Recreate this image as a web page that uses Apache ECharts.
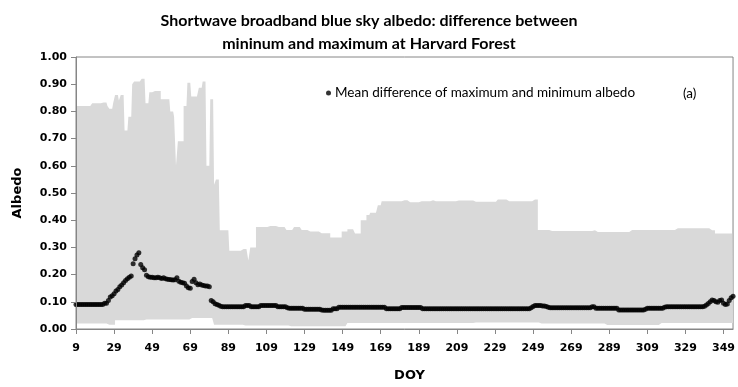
<!DOCTYPE html>
<html>
<head>
<meta charset="utf-8">
<title>Harvard Forest blue sky albedo range</title>
<script src="https://cdn.jsdelivr.net/npm/echarts@6/dist/echarts.min.js"></script>
<style>
  html, body { margin: 0; padding: 0; background: #fff; }
  #chart { width: 738px; height: 387px; }
</style>
</head>
<body>
<div id="chart"></div>
<script>
// Day-of-year range covered by the series
const FIRST_DOY = 9;
const LAST_DOY = 354;

// Daily maximum of shortwave broadband blue sky albedo (upper edge of the grey band)
const maxAlbedo = [
  // 9-18
  0.82,0.82,0.82,0.82,0.82,0.82,0.82,0.82,0.82,0.83,
  // 19-28
  0.83,0.83,0.83,0.83,0.833,0.833,0.833,0.82,0.81,0.81,
  // 29-38
  0.83,0.86,0.86,0.84,0.86,0.86,0.73,0.73,0.78,0.78,
  // 39-48
  0.90,0.91,0.91,0.91,0.91,0.92,0.92,0.83,0.83,0.87,
  // 49-58
  0.87,0.875,0.875,0.875,0.875,0.845,0.845,0.845,0.845,0.845,
  // 59-68
  0.80,0.80,0.78,0.60,0.69,0.69,0.69,0.82,0.82,0.905,
  // 69-78
  0.905,0.855,0.855,0.855,0.855,0.887,0.887,0.91,0.91,0.60,
  // 79-88
  0.60,0.845,0.845,0.53,0.55,0.55,0.363,0.363,0.363,0.363,
  // 89-98
  0.363,0.288,0.288,0.288,0.288,0.288,0.288,0.294,0.294,0.294,
  // 99-108
  0.294,0.252,0.30,0.30,0.30,0.375,0.375,0.375,0.375,0.375,
  // 109-118
  0.375,0.379,0.379,0.379,0.379,0.379,0.375,0.375,0.375,0.375,
  // 119-128
  0.375,0.364,0.364,0.364,0.368,0.375,0.375,0.375,0.375,0.364,
  // 129-138
  0.364,0.364,0.364,0.358,0.358,0.358,0.358,0.358,0.352,0.352,
  // 139-148
  0.352,0.352,0.352,0.352,0.336,0.336,0.336,0.336,0.336,0.336,
  // 149-158
  0.358,0.358,0.358,0.367,0.367,0.367,0.367,0.351,0.351,0.351,
  // 159-168
  0.40,0.40,0.40,0.419,0.419,0.427,0.427,0.427,0.427,0.455,
  // 169-178
  0.455,0.47,0.47,0.47,0.47,0.47,0.47,0.47,0.47,0.47,
  // 179-188
  0.47,0.47,0.473,0.473,0.473,0.466,0.466,0.466,0.466,0.466,
  // 189-198
  0.466,0.47,0.47,0.47,0.47,0.47,0.47,0.473,0.473,0.47,
  // 199-208
  0.47,0.47,0.47,0.47,0.47,0.47,0.47,0.47,0.47,0.47,
  // 209-218
  0.47,0.472,0.472,0.472,0.472,0.472,0.472,0.472,0.472,0.468,
  // 219-228
  0.468,0.468,0.468,0.468,0.468,0.468,0.468,0.468,0.468,0.468,
  // 229-238
  0.468,0.468,0.476,0.476,0.476,0.476,0.476,0.47,0.47,0.47,
  // 239-248
  0.47,0.47,0.47,0.47,0.47,0.47,0.47,0.47,0.47,0.47,
  // 249-258
  0.476,0.476,0.476,0.364,0.364,0.364,0.364,0.364,0.364,0.36,
  // 259-268
  0.36,0.36,0.36,0.36,0.36,0.36,0.36,0.36,0.36,0.36,
  // 269-278
  0.36,0.36,0.36,0.36,0.36,0.36,0.36,0.36,0.36,0.36,
  // 279-288
  0.36,0.36,0.363,0.357,0.357,0.357,0.357,0.357,0.357,0.357,
  // 289-298
  0.357,0.357,0.357,0.357,0.357,0.357,0.357,0.357,0.357,0.357,
  // 299-308
  0.357,0.357,0.364,0.364,0.364,0.364,0.364,0.364,0.364,0.364,
  // 309-318
  0.364,0.364,0.364,0.364,0.364,0.364,0.364,0.364,0.364,0.364,
  // 319-328
  0.364,0.364,0.364,0.364,0.364,0.364,0.37,0.37,0.37,0.37,
  // 329-338
  0.37,0.37,0.37,0.37,0.37,0.37,0.37,0.37,0.37,0.37,
  // 339-348
  0.37,0.37,0.37,0.363,0.363,0.363,0.351,0.351,0.351,0.351,
  // 349-354
  0.351,0.351,0.351,0.351,0.351,0.351
];

// Daily minimum albedo (lower edge of the grey band)
const minAlbedo = [
  // 9-18
  0.02,0.02,0.02,0.02,0.02,0.02,0.02,0.02,0.02,0.02,
  // 19-28
  0.02,0.02,0.02,0.02,0.02,0.02,0.02,0.02,0.016,0.016,
  // 29-38
  0.016,0.032,0.032,0.032,0.032,0.032,0.032,0.032,0.032,0.032,
  // 39-48
  0.032,0.032,0.032,0.032,0.032,0.032,0.032,0.035,0.035,0.035,
  // 49-58
  0.035,0.035,0.035,0.035,0.035,0.035,0.035,0.035,0.035,0.035,
  // 59-68
  0.035,0.035,0.035,0.035,0.035,0.035,0.035,0.035,0.035,0.035,
  // 69-78
  0.035,0.04,0.04,0.04,0.04,0.04,0.04,0.04,0.04,0.04,
  // 79-88
  0.04,0.04,0.016,0.016,0.016,0.016,0.016,0.016,0.016,0.016,
  // 89-98
  0.016,0.016,0.016,0.016,0.016,0.016,0.016,0.016,0.016,0.013,
  // 99-108
  0.013,0.013,0.013,0.013,0.013,0.013,0.013,0.013,0.013,0.013,
  // 109-118
  0.013,0.013,0.013,0.013,0.013,0.013,0.013,0.013,0.013,0.013,
  // 119-128
  0.013,0.013,0.013,0.01,0.01,0.01,0.01,0.01,0.01,0.01,
  // 129-138
  0.01,0.01,0.01,0.01,0.01,0.01,0.01,0.01,0.01,0.01,
  // 139-148
  0.01,0.01,0.01,0.01,0.01,0.01,0.01,0.01,0.01,0.01,
  // 149-158
  0.01,0.01,0.022,0.022,0.022,0.022,0.022,0.022,0.022,0.022,
  // 159-168
  0.022,0.022,0.022,0.022,0.022,0.022,0.022,0.022,0.022,0.022,
  // 169-178
  0.022,0.022,0.022,0.022,0.022,0.022,0.022,0.022,0.022,0.022,
  // 179-188
  0.022,0.022,0.022,0.022,0.022,0.022,0.022,0.022,0.022,0.022,
  // 189-198
  0.022,0.022,0.022,0.022,0.022,0.022,0.022,0.022,0.022,0.022,
  // 199-208
  0.022,0.022,0.022,0.022,0.022,0.022,0.022,0.022,0.022,0.022,
  // 209-218
  0.022,0.022,0.022,0.022,0.022,0.022,0.022,0.022,0.022,0.022,
  // 219-228
  0.024,0.024,0.024,0.024,0.024,0.024,0.024,0.024,0.024,0.024,
  // 229-238
  0.024,0.024,0.024,0.024,0.024,0.024,0.024,0.024,0.024,0.024,
  // 239-248
  0.024,0.024,0.024,0.024,0.024,0.024,0.024,0.024,0.024,0.024,
  // 249-258
  0.024,0.024,0.024,0.024,0.024,0.02,0.02,0.02,0.02,0.02,
  // 259-268
  0.02,0.02,0.02,0.02,0.02,0.02,0.02,0.02,0.02,0.02,
  // 269-278
  0.02,0.02,0.02,0.02,0.02,0.02,0.02,0.02,0.02,0.02,
  // 279-288
  0.02,0.02,0.02,0.02,0.02,0.02,0.02,0.02,0.02,0.015,
  // 289-298
  0.015,0.015,0.015,0.015,0.015,0.015,0.015,0.015,0.015,0.015,
  // 299-308
  0.015,0.015,0.015,0.015,0.015,0.015,0.015,0.015,0.015,0.015,
  // 309-318
  0.015,0.015,0.015,0.015,0.015,0.015,0.015,0.015,0.022,0.022,
  // 319-328
  0.022,0.022,0.022,0.022,0.022,0.022,0.022,0.022,0.022,0.022,
  // 329-338
  0.022,0.022,0.022,0.022,0.022,0.022,0.022,0.022,0.022,0.022,
  // 339-348
  0.022,0.022,0.022,0.022,0.022,0.022,0.022,0.022,0.022,0.022,
  // 349-354
  0.022,0.022,0.022,0.022,0.022,0.022
];

// Mean difference of maximum and minimum albedo (black dots)
const meanDiff = [
  // 9-18
  0.09,0.09,0.09,0.09,0.09,0.09,0.09,0.09,0.09,0.09,
  // 19-28
  0.09,0.09,0.09,0.09,0.09,0.095,0.095,0.105,0.118,0.122,
  // 29-38
  0.13,0.14,0.145,0.155,0.162,0.17,0.178,0.185,0.19,0.195,
  // 39-48
  0.24,0.258,0.272,0.28,0.237,0.225,0.218,0.198,0.192,0.19,
  // 49-58
  0.19,0.188,0.188,0.19,0.188,0.186,0.188,0.185,0.183,0.182,
  // 59-68
  0.181,0.18,0.181,0.188,0.176,0.172,0.17,0.168,0.158,0.152,
  // 69-78
  0.15,0.175,0.183,0.17,0.163,0.165,0.162,0.16,0.158,0.158,
  // 79-88
  0.155,0.105,0.1,0.093,0.09,0.087,0.084,0.082,0.082,0.082,
  // 89-98
  0.082,0.082,0.082,0.082,0.082,0.082,0.082,0.082,0.082,0.086,
  // 99-108
  0.086,0.086,0.082,0.082,0.082,0.082,0.082,0.086,0.086,0.086,
  // 109-118
  0.086,0.086,0.086,0.086,0.086,0.086,0.082,0.082,0.082,0.082,
  // 119-128
  0.082,0.078,0.076,0.076,0.076,0.076,0.076,0.076,0.076,0.076,
  // 129-138
  0.073,0.073,0.073,0.073,0.073,0.073,0.073,0.073,0.073,0.07,
  // 139-148
  0.069,0.069,0.069,0.069,0.069,0.074,0.074,0.074,0.08,0.08,
  // 149-158
  0.08,0.08,0.08,0.08,0.08,0.08,0.08,0.08,0.08,0.08,
  // 159-168
  0.08,0.08,0.08,0.08,0.08,0.08,0.08,0.08,0.08,0.08,
  // 169-178
  0.08,0.08,0.08,0.074,0.074,0.074,0.074,0.074,0.074,0.074,
  // 179-188
  0.074,0.079,0.079,0.079,0.079,0.079,0.079,0.079,0.079,0.079,
  // 189-198
  0.079,0.079,0.074,0.074,0.074,0.074,0.074,0.074,0.074,0.074,
  // 199-208
  0.074,0.074,0.074,0.074,0.074,0.074,0.074,0.074,0.074,0.074,
  // 209-218
  0.074,0.074,0.074,0.074,0.074,0.074,0.074,0.074,0.074,0.074,
  // 219-228
  0.074,0.074,0.074,0.074,0.074,0.074,0.074,0.074,0.074,0.074,
  // 229-238
  0.074,0.074,0.074,0.074,0.074,0.074,0.074,0.074,0.074,0.074,
  // 239-248
  0.074,0.074,0.074,0.074,0.074,0.074,0.074,0.074,0.074,0.078,
  // 249-258
  0.083,0.086,0.086,0.086,0.086,0.085,0.085,0.083,0.08,0.078,
  // 259-268
  0.078,0.078,0.078,0.078,0.078,0.078,0.078,0.078,0.078,0.078,
  // 269-278
  0.078,0.078,0.078,0.078,0.078,0.078,0.078,0.078,0.078,0.078,
  // 279-288
  0.078,0.082,0.082,0.076,0.076,0.076,0.076,0.076,0.076,0.076,
  // 289-298
  0.076,0.076,0.076,0.076,0.076,0.07,0.07,0.07,0.07,0.07,
  // 299-308
  0.07,0.07,0.07,0.07,0.07,0.07,0.07,0.07,0.07,0.073,
  // 309-318
  0.076,0.076,0.076,0.076,0.076,0.076,0.076,0.076,0.076,0.08,
  // 319-328
  0.082,0.082,0.082,0.082,0.082,0.082,0.082,0.082,0.082,0.082,
  // 329-338
  0.082,0.082,0.082,0.082,0.082,0.082,0.082,0.082,0.082,0.082,
  // 339-348
  0.084,0.088,0.094,0.1,0.107,0.105,0.1,0.098,0.105,0.107,
  // 349-354
  0.095,0.09,0.092,0.105,0.115,0.12
];

// Labels and y-axis ticks
const titleLines = [
  'Shortwave broadband blue sky albedo: difference between',
  'mininum and maximum at Harvard Forest'
];
const meanSeriesName = 'Mean difference of maximum and minimum albedo';
const panelTag = '(a)';
const yTicks = { min: 0, max: 1, step: 0.1 };
const xLabelEvery = 20;

// Category axis: one entry per day of year
const doy = [];
for (let d = FIRST_DOY; d <= LAST_DOY; d++) doy.push(String(d));

// Grey band drawn as the range stacked on top of the daily minimum
const bandHeight = maxAlbedo.map((v, i) => +(v - minAlbedo[i]).toFixed(4));

const AXIS_GREY = '#868686';
const BAND_GREY = '#d9d9d9';

const chart = echarts.init(document.getElementById('chart'), null, { renderer: 'canvas' });

chart.setOption({
  animation: false,
  backgroundColor: '#ffffff',
  title: [
    {
      text: titleLines.join('\n'),
      left: 'center',
      top: 9,
      padding: [0, 0, 0, 8],
      textStyle: {
        fontFamily: 'Lato',
        fontWeight: 'bold',
        fontSize: 16,
        lineHeight: 23,
        color: '#000'
      }
    },
    {
      text: panelTag,
      left: 683,
      top: 87,
      padding: 0,
      textStyle: {
        fontFamily: 'Lato',
        fontWeight: 'normal',
        fontSize: 13.5,
        color: '#000'
      }
    }
  ],
  legend: {
    data: [meanSeriesName],
    left: 326,
    top: 86,
    padding: 0,
    icon: 'circle',
    itemWidth: 5,
    itemHeight: 5,
    itemGap: 4,
    textStyle: {
      fontFamily: 'Lato',
      fontSize: 13.5,
      color: '#000',
      padding: [0, 0, 0, -1]
    }
  },
  grid: {
    show: true,
    left: 76,
    top: 57,
    right: -1,
    bottom: 54,
    borderColor: AXIS_GREY,
    borderWidth: 1,
    backgroundColor: 'transparent'
  },
  xAxis: {
    type: 'category',
    data: doy,
    boundaryGap: false,
    z: 5,
    name: 'DOY',
    nameLocation: 'middle',
    nameGap: 40,
    nameTextStyle: {
      fontFamily: 'DejaVu Sans',
      fontWeight: 'bold',
      fontSize: 13,
      color: '#000',
      padding: [0, 0, 0, 10]
    },
    axisLine: { lineStyle: { color: AXIS_GREY, width: 1 } },
    axisTick: { interval: xLabelEvery - 1, length: 5, lineStyle: { color: AXIS_GREY } },
    axisLabel: {
      interval: xLabelEvery - 1,
      margin: 14,
      fontFamily: 'DejaVu Sans',
      fontWeight: 'bold',
      fontSize: 11,
      color: '#000'
    },
    splitLine: { show: false }
  },
  yAxis: {
    type: 'value',
    min: yTicks.min,
    max: yTicks.max,
    interval: yTicks.step,
    z: 5,
    name: 'Albedo',
    nameLocation: 'middle',
    nameRotate: 90,
    nameGap: 52,
    nameTextStyle: {
      fontFamily: 'DejaVu Sans',
      fontWeight: 'bold',
      fontSize: 13,
      color: '#000'
    },
    axisLine: { show: true, lineStyle: { color: AXIS_GREY, width: 1 } },
    axisTick: { show: true, length: 5, lineStyle: { color: AXIS_GREY } },
    axisLabel: {
      margin: 9,
      fontFamily: 'DejaVu Sans',
      fontWeight: 'bold',
      fontSize: 11,
      color: '#000',
      formatter: v => v.toFixed(2)
    },
    splitLine: { show: false }
  },
  series: [
    {
      name: 'Minimum albedo',
      type: 'line',
      stack: 'albedoRange',
      data: minAlbedo,
      step: 'middle',
      showSymbol: false,
      symbol: 'none',
      silent: true,
      lineStyle: { width: 0, opacity: 0 },
      z: 1
    },
    {
      name: 'Albedo range',
      type: 'line',
      stack: 'albedoRange',
      data: bandHeight,
      step: 'middle',
      showSymbol: false,
      symbol: 'none',
      silent: true,
      lineStyle: { width: 0, opacity: 0 },
      areaStyle: { color: BAND_GREY, opacity: 1 },
      z: 1
    },
    {
      name: meanSeriesName,
      type: 'scatter',
      data: meanDiff,
      symbol: 'circle',
      symbolSize: 5,
      itemStyle: { color: '#000' },
      z: 3
    }
  ]
});
</script>
</body>
</html>
